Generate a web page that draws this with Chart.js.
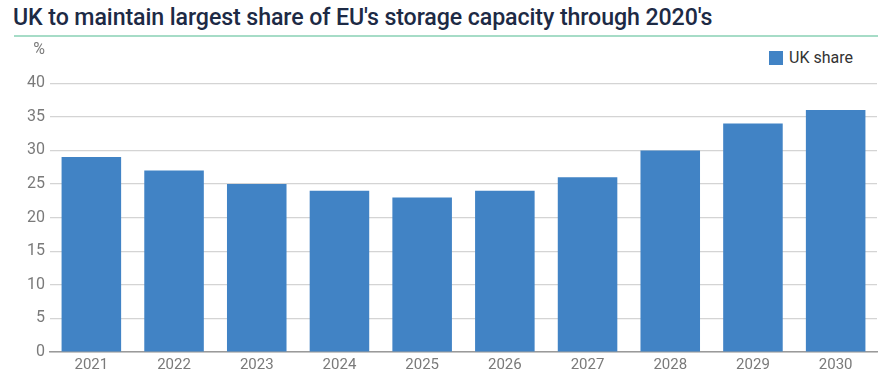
<!DOCTYPE html>
<html>
<head>
<meta charset="utf-8">
<script src="https://cdn.jsdelivr.net/npm/chart.js@4"></script>
<style>
  body { margin: 0; background: #fff; width: 893px; height: 376px; overflow: hidden; position: relative; font-family: Roboto, sans-serif; }
  #title { position: absolute; left: 13px; top: 3px; font-size: 23.2px; font-weight: 500; color: #1d2a45; letter-spacing: -0.1px; white-space: nowrap; }
  #rule { position: absolute; left: 14px; top: 35px; width: 864px; height: 2px; background: #a6dcc7; }
  #legend { position: absolute; left: 769px; top: 48px; font-size: 16px; color: #333; display: flex; align-items: center; }
  #legend span.box { display: inline-block; width: 14px; height: 14px; background: #4183c5; margin-right: 6px; }
  #wrap { position: absolute; left: 0; top: 35px; width: 893px; height: 341px; }
</style>
</head>
<body>
<div id="title">UK to maintain largest share of EU's storage capacity through 2020's</div>
<div id="rule"></div>
<div id="legend"><span class="box"></span>UK share</div>
<div id="wrap"><canvas id="chart"></canvas></div>
<script>
const years = ["2021", "2022", "2023", "2024", "2025", "2026", "2027", "2028", "2029", "2030"];
const ukShare = [29, 27, 25, 24, 23, 24, 26, 30, 34, 36];
const yTicks = [0, 5, 10, 15, 20, 25, 30, 35, 40];
const yUnit = "%";

new Chart(document.getElementById("chart"), {
  type: "bar",
  data: {
    labels: years,
    datasets: [
      { label: "UK share", data: ukShare, backgroundColor: "#4183c5", barPercentage: 0.72, categoryPercentage: 1 }
    ]
  },
  options: {
    responsive: true,
    maintainAspectRatio: false,
    animation: false,
    layout: { padding: { top: 3, right: 16, left: 0, bottom: 0 } },
    plugins: { legend: { display: false }, tooltip: { enabled: false } },
    scales: {
      x: {
        grid: { display: false, drawTicks: false },
        border: { color: "#9a9a9a", width: 1.5 },
        ticks: { color: "#7a7a7a", font: { family: "Roboto", size: 15 }, padding: 4 },
        afterFit: s => { s.height = 24; }
      },
      y: {
        min: 0, max: 45,
        afterBuildTicks: s => { s.ticks = yTicks.concat([45]).map(v => ({ value: v })); },
        ticks: {
          color: "#7a7a7a", font: { family: "Roboto", size: 16 }, padding: 5,
          callback: v => v === 45 ? yUnit : v
        },
        grid: {
          drawTicks: false,
          color: c => c.tick && c.tick.value === 45 ? "rgba(0,0,0,0)" : "#d4d4d4",
          lineWidth: 1.2
        },
        border: { display: false },
        afterFit: s => { s.width = 50; }
      }
    }
  }
});
</script>
</body>
</html>
